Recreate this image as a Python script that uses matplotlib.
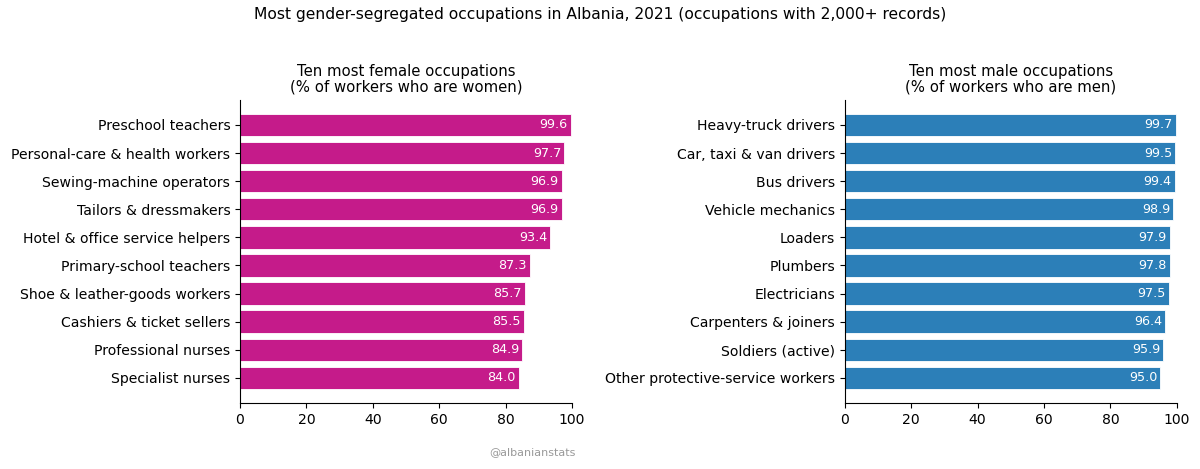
import matplotlib.pyplot as plt

# values
female_jobs = ["Preschool teachers", "Personal-care & health workers", "Sewing-machine operators",
               "Tailors & dressmakers", "Hotel & office service helpers", "Primary-school teachers",
               "Shoe & leather-goods workers", "Cashiers & ticket sellers", "Professional nurses",
               "Specialist nurses"]
female_pct = [99.6, 97.7, 96.9, 96.9, 93.4, 87.3, 85.7, 85.5, 84.9, 84.0]

male_jobs = ["Heavy-truck drivers", "Car, taxi & van drivers", "Bus drivers", "Vehicle mechanics",
             "Loaders", "Plumbers", "Electricians", "Carpenters & joiners", "Soldiers (active)",
             "Other protective-service workers"]
male_pct = [99.7, 99.5, 99.4, 98.9, 97.9, 97.8, 97.5, 96.4, 95.9, 95.0]

fig = plt.figure(figsize=(12, 4.69), dpi=100)
ax1 = fig.add_axes([0.2, 0.141, 0.2767, 0.646])
ax2 = fig.add_axes([0.704, 0.141, 0.2767, 0.646])

def panel(ax, jobs, pct, color, title):
    ypos = list(range(len(jobs)))
    ax.barh(ypos, pct, height=0.8, color=color, edgecolor="white", linewidth=0.6)
    ax.set_yticks(ypos)
    ax.set_yticklabels(jobs, fontsize=10.1)
    ax.invert_yaxis()
    ax.set_xlim(0, 100)
    ax.set_xticks([0, 20, 40, 60, 80, 100])
    ax.tick_params(axis="x", labelsize=10.1)
    ax.spines["top"].set_visible(False)
    ax.spines["right"].set_visible(False)
    ax.set_title(title, fontsize=10.7, linespacing=1.05)
    for y, v in zip(ypos, pct):
        ax.text(v - 0.9, y, f"{v:.1f}", ha="right", va="center", color="white", fontsize=9.2)

panel(ax1, female_jobs, female_pct, "#c51b8a", "Ten most female occupations\n(% of workers who are women)")
panel(ax2, male_jobs, male_pct, "#2c7fb8", "Ten most male occupations\n(% of workers who are men)")

fig.suptitle("Most gender-segregated occupations in Albania, 2021 (occupations with 2,000+ records)",
             fontsize=11.15, x=0.5, y=0.985)
fig.text(0.444, 0.03, "@albanianstats", color="#999999", fontsize=8, ha="center")

fig.savefig("out.png", dpi=100)
